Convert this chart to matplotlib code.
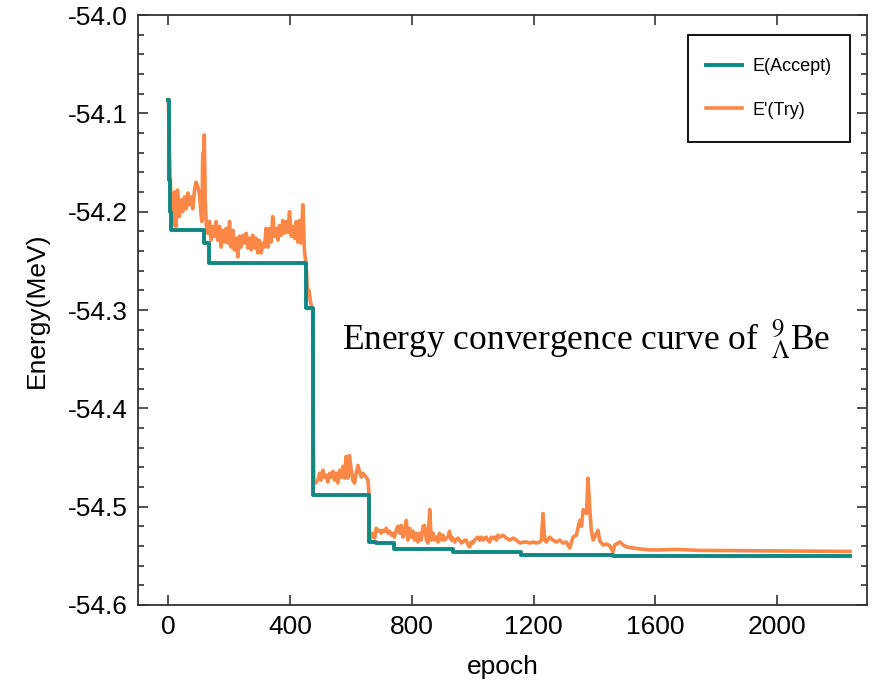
import matplotlib
matplotlib.use("Agg")
import matplotlib.pyplot as plt
from matplotlib.ticker import MultipleLocator
from matplotlib.patches import Rectangle

plt.rcParams['font.family'] = ['Liberation Sans', 'DejaVu Sans']
plt.rcParams['mathtext.fontset'] = 'stix'
plt.rcParams['axes.unicode_minus'] = False

# accepted energy (step curve)
accept_epoch = [0, 1, 3, 6, 9, 118, 133, 452, 474, 658, 683, 740, 937, 1158, 1461, 2240]
accept_energy = [-54.086, -54.125, -54.168, -54.200, -54.2186, -54.232, -54.252, -54.298,
                 -54.488, -54.536, -54.537, -54.543, -54.5465, -54.5495, -54.5505, -54.5505]

# trial energy
try_epoch = [0, 3, 6, 9, 12, 17, 20, 25, 30, 36, 42, 47, 53, 58, 64, 69, 75, 80, 86, 91, 97, 102,
             108, 110, 113, 116, 118, 121, 125,
             129, 135, 140, 146, 151, 157, 162, 168, 173, 179, 184, 190, 195, 201, 206, 212, 217,
             223, 228, 234, 239, 245, 250, 256, 261, 266, 272, 277, 283, 288, 294, 299, 305, 310,
             316, 321, 327, 332, 338, 343, 349, 354, 360, 365, 371, 376, 382, 387, 393, 398, 404,
             409, 415, 420, 425, 431, 436, 442, 447, 451, 454, 458, 462, 466, 470, 474, 476,
             478, 484, 491, 497, 502, 508, 513, 519, 524, 530, 535, 541, 546, 552, 557, 563, 568,
             574, 579, 584, 590, 595, 601, 606, 612, 617, 623, 628, 634, 639, 645, 650, 656, 659,
             661, 667, 672, 678, 683, 689, 694, 700, 705, 711, 716, 722, 727, 733, 738, 743, 749,
             754, 760, 765, 771, 776, 782, 787, 793, 798, 804, 809, 815, 820, 826, 831, 837, 842,
             848, 853, 859, 864, 870, 875, 881, 886, 891, 897, 902, 908, 913, 919, 924, 930, 935,
             941, 946, 952, 957, 963, 968, 974, 979, 985, 990, 996, 1001, 1007, 1012, 1018, 1023,
             1029, 1034, 1040, 1045, 1050, 1056, 1061, 1067, 1072, 1078, 1083,
             1089, 1100, 1111, 1122, 1133, 1144, 1155, 1166, 1177, 1188, 1199, 1209, 1220, 1226,
             1231, 1237, 1242, 1253, 1264, 1275, 1286, 1297, 1308, 1319, 1330, 1341, 1352, 1358,
             1363, 1374, 1379, 1385, 1390, 1396, 1407, 1412, 1418, 1429, 1440, 1451, 1461, 1467,
             1484, 1495, 1506, 1527, 1549, 1582, 1615, 1670, 1747, 2240]
try_energy = [-54.086, -54.130, -54.165, -54.200, -54.214, -54.190, -54.180, -54.215, -54.178,
              -54.205, -54.188, -54.200, -54.185, -54.197, -54.181, -54.193, -54.185, -54.197,
              -54.178, -54.170, -54.175, -54.182, -54.205, -54.210, -54.140, -54.160, -54.122,
              -54.190, -54.215,
              -54.222, -54.210, -54.229, -54.215, -54.225, -54.210, -54.229, -54.215, -54.236,
              -54.219, -54.231, -54.217, -54.232, -54.210, -54.236, -54.219, -54.239, -54.227,
              -54.246, -54.225, -54.236, -54.224, -54.232, -54.222, -54.237, -54.227, -54.239,
              -54.224, -54.237, -54.227, -54.242, -54.229, -54.242, -54.232, -54.236, -54.217,
              -54.236, -54.217, -54.231, -54.205, -54.225, -54.217, -54.229, -54.214, -54.224,
              -54.209, -54.222, -54.210, -54.221, -54.200, -54.225, -54.215, -54.227, -54.210,
              -54.231, -54.209, -54.232, -54.193, -54.239, -54.250, -54.262, -54.285, -54.280,
              -54.290, -54.296, -54.300, -54.400,
              -54.476, -54.476, -54.473, -54.466, -54.473, -54.463, -54.470, -54.468, -54.475,
              -54.466, -54.470, -54.464, -54.473, -54.466, -54.476, -54.463, -54.470, -54.459,
              -54.471, -54.449, -54.471, -54.448, -54.463, -54.473, -54.476, -54.466, -54.458,
              -54.464, -54.470, -54.466, -54.468, -54.470, -54.473, -54.486,
              -54.534, -54.531, -54.527, -54.532, -54.522, -54.525, -54.524, -54.527, -54.524,
              -54.525, -54.522, -54.527, -54.525, -54.529, -54.527, -54.531, -54.524, -54.520,
              -54.527, -54.519, -54.531, -54.525, -54.514, -54.534, -54.522, -54.531, -54.525,
              -54.534, -54.527, -54.536, -54.527, -54.534, -54.520, -54.519, -54.534, -54.537,
              -54.503, -54.534, -54.527, -54.534, -54.531, -54.536, -54.527, -54.534, -54.529,
              -54.534, -54.532, -54.531, -54.525, -54.534, -54.532, -54.536, -54.534, -54.532,
              -54.534, -54.537, -54.536, -54.534, -54.534, -54.539, -54.541, -54.536, -54.537,
              -54.534, -54.532, -54.531, -54.534, -54.531, -54.534, -54.532, -54.531, -54.534,
              -54.536, -54.531, -54.532, -54.531, -54.534, -54.529,
              -54.531, -54.529, -54.532, -54.534, -54.532, -54.534, -54.537, -54.536, -54.536,
              -54.537, -54.536, -54.537, -54.536, -54.534, -54.507, -54.534, -54.536, -54.531,
              -54.534, -54.536, -54.534, -54.537, -54.536, -54.542, -54.531, -54.529, -54.514,
              -54.520, -54.503, -54.507, -54.471, -54.503, -54.524, -54.534, -54.527, -54.524,
              -54.535, -54.539, -54.538, -54.540, -54.546, -54.539, -54.536, -54.539, -54.541,
              -54.542, -54.543, -54.544, -54.544, -54.5435, -54.5445, -54.5455]

fig = plt.figure(figsize=(8.81, 6.86), dpi=100)
ax = fig.add_axes([0.1566, 0.1181, 0.8275, 0.86])

teal = '#118783'
orange = '#fd8747'
l2, = ax.plot(try_epoch, try_energy, color=orange, lw=2.6, zorder=2, label="E'(Try)")
l1, = ax.plot(accept_epoch, accept_energy, color=teal, lw=2.8, drawstyle='steps-post',
              zorder=3, label='E(Accept)')

ax.set_xlim(-100, 2296)
ax.set_ylim(-54.6, -54.0)
ax.set_xticks([0, 400, 800, 1200, 1600, 2000])
ax.set_yticks([-54.6, -54.5, -54.4, -54.3, -54.2, -54.1, -54.0])
ax.yaxis.set_minor_locator(MultipleLocator(0.02))
ax.set_yticklabels(['%.1f' % v for v in ax.get_yticks()])
ax.tick_params(which='both', direction='in', top=True, right=True, width=1.1,
               colors='#222222', labelcolor='black')
ax.tick_params(which='major', length=7, labelsize=19, pad=7)
ax.tick_params(which='minor', length=4)
for s in ax.spines.values():
    s.set_linewidth(1.3)
    s.set_color('#333333')

ax.set_xlabel('epoch', fontsize=19, labelpad=12)
ax.set_ylabel('Energy(MeV)', fontsize=19, labelpad=14)

ax.text(569, -54.3397, r"Energy convergence curve of $\,{}^{9}_{\Lambda}$Be",
        fontsize=25.5, family='Liberation Serif', ha='left', va='baseline')

# legend box
ax.add_patch(Rectangle((0.754, 0.785), 0.223, 0.181, transform=ax.transAxes,
                       facecolor='white', edgecolor='black', lw=1.3, zorder=4))
leg = ax.legend(handles=[l1, l2], loc='center', bbox_to_anchor=(0.8655, 0.8755),
                borderaxespad=0, fontsize=13, handlelength=2.0, handletextpad=0.55,
                labelspacing=1.45, frameon=False)
leg.set_zorder(5)

fig.savefig('out.png', dpi=100)
